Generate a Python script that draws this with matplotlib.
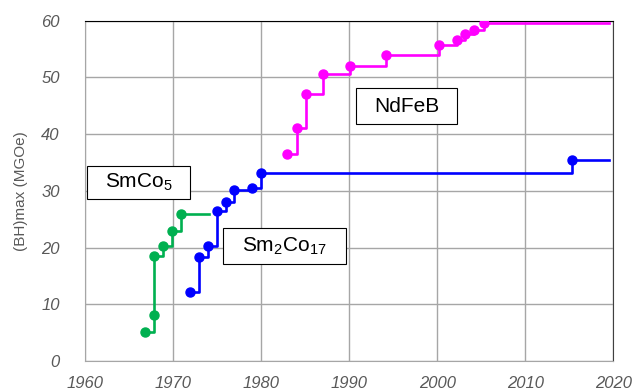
import matplotlib
matplotlib.use("Agg")
import matplotlib.pyplot as plt
from matplotlib.patches import Rectangle

plt.rcParams['font.family'] = ['Liberation Sans', 'DejaVu Sans']
plt.rcParams['mathtext.fontset'] = 'custom'
plt.rcParams['mathtext.rm'] = 'Liberation Sans'
plt.rcParams['mathtext.it'] = 'Liberation Sans:italic'

# SmCo5
smco5_year = [1966.9, 1967.9, 1967.9, 1968.9, 1969.9, 1970.9]
smco5_bh = [5.1, 8.1, 18.5, 20.2, 23.0, 26.0]
smco5_end = 1974.1

# Sm2Co17
sm2co17_year = [1972.0, 1973.0, 1974.0, 1975.0, 1976.0, 1977.0, 1979.0, 1980.0, 2015.3]
sm2co17_bh = [12.1, 18.4, 20.3, 26.4, 28.1, 30.1, 30.6, 33.1, 35.4]
sm2co17_end = 2019.5

# NdFeB
ndfeb_year = [1983.0, 1984.1, 1985.1, 1987.1, 1990.1, 1994.2, 2000.2, 2002.3, 2003.2, 2004.2, 2005.3]
ndfeb_bh = [36.5, 41.1, 47.1, 50.7, 52.1, 54.0, 55.7, 56.6, 57.6, 58.4, 59.6]
ndfeb_end = 2019.5

series = [
    (smco5_year, smco5_bh, smco5_end, '#00B050'),
    (sm2co17_year, sm2co17_bh, sm2co17_end, '#0000FF'),
    (ndfeb_year, ndfeb_bh, ndfeb_end, '#FF00FF'),
]

# label boxes: text, x0, x1, y0, y1
labels = [
    ('SmCo$\\mathregular{_5}$', 1960.3, 1972.0, 28.5, 34.45),
    ('Sm$\\mathregular{_2}$Co$\\mathregular{_{17}}$', 1975.75, 1989.65, 17.1, 23.45),
    ('NdFeB', 1990.8, 2002.3, 41.8, 48.1),
]

fig = plt.figure(figsize=(6.4, 3.92), dpi=100)
ax = fig.add_axes([0.1323, 0.079, 0.826, 0.868])

for xs, ys, end, col in series:
    ax.step(xs + [end], ys + [ys[-1]], where='post', color=col, linewidth=1.9, zorder=3)
    ax.plot(xs, ys, 'o', color=col, markersize=6.5, zorder=4)

for txt, x0, x1, y0, y1 in labels:
    ax.add_patch(Rectangle((x0, y0), x1 - x0, y1 - y0, facecolor='white',
                           edgecolor='black', linewidth=0.8, zorder=5))
    ax.text((x0 + x1) / 2, (y0 + y1) / 2, txt, fontsize=15, ha='center', va='center', zorder=6)

ax.set_xlim(1960, 2020)
ax.set_ylim(0, 60)
ax.set_xticks(range(1960, 2021, 10))
ax.set_yticks(range(0, 61, 10))
ax.grid(True, color='#A6A6A6', linewidth=1.0)
ax.set_axisbelow(True)
ax.tick_params(length=0, labelsize=12, labelcolor='#595959')
ax.tick_params(axis='y', pad=18)
ax.tick_params(axis='x', pad=11)
for lbl in ax.get_xticklabels() + ax.get_yticklabels():
    lbl.set_fontstyle('italic')
ax.spines['left'].set_color('#A6A6A6')
ax.spines['bottom'].set_color('#A6A6A6')
ax.spines['top'].set_color('black')
ax.spines['right'].set_color('#404040')
ax.set_ylabel('(BH)max (MGOe)', color='#595959', fontsize=11)
ax.yaxis.set_label_coords(-0.108, 0.5)

fig.savefig('out.png', dpi=100)
